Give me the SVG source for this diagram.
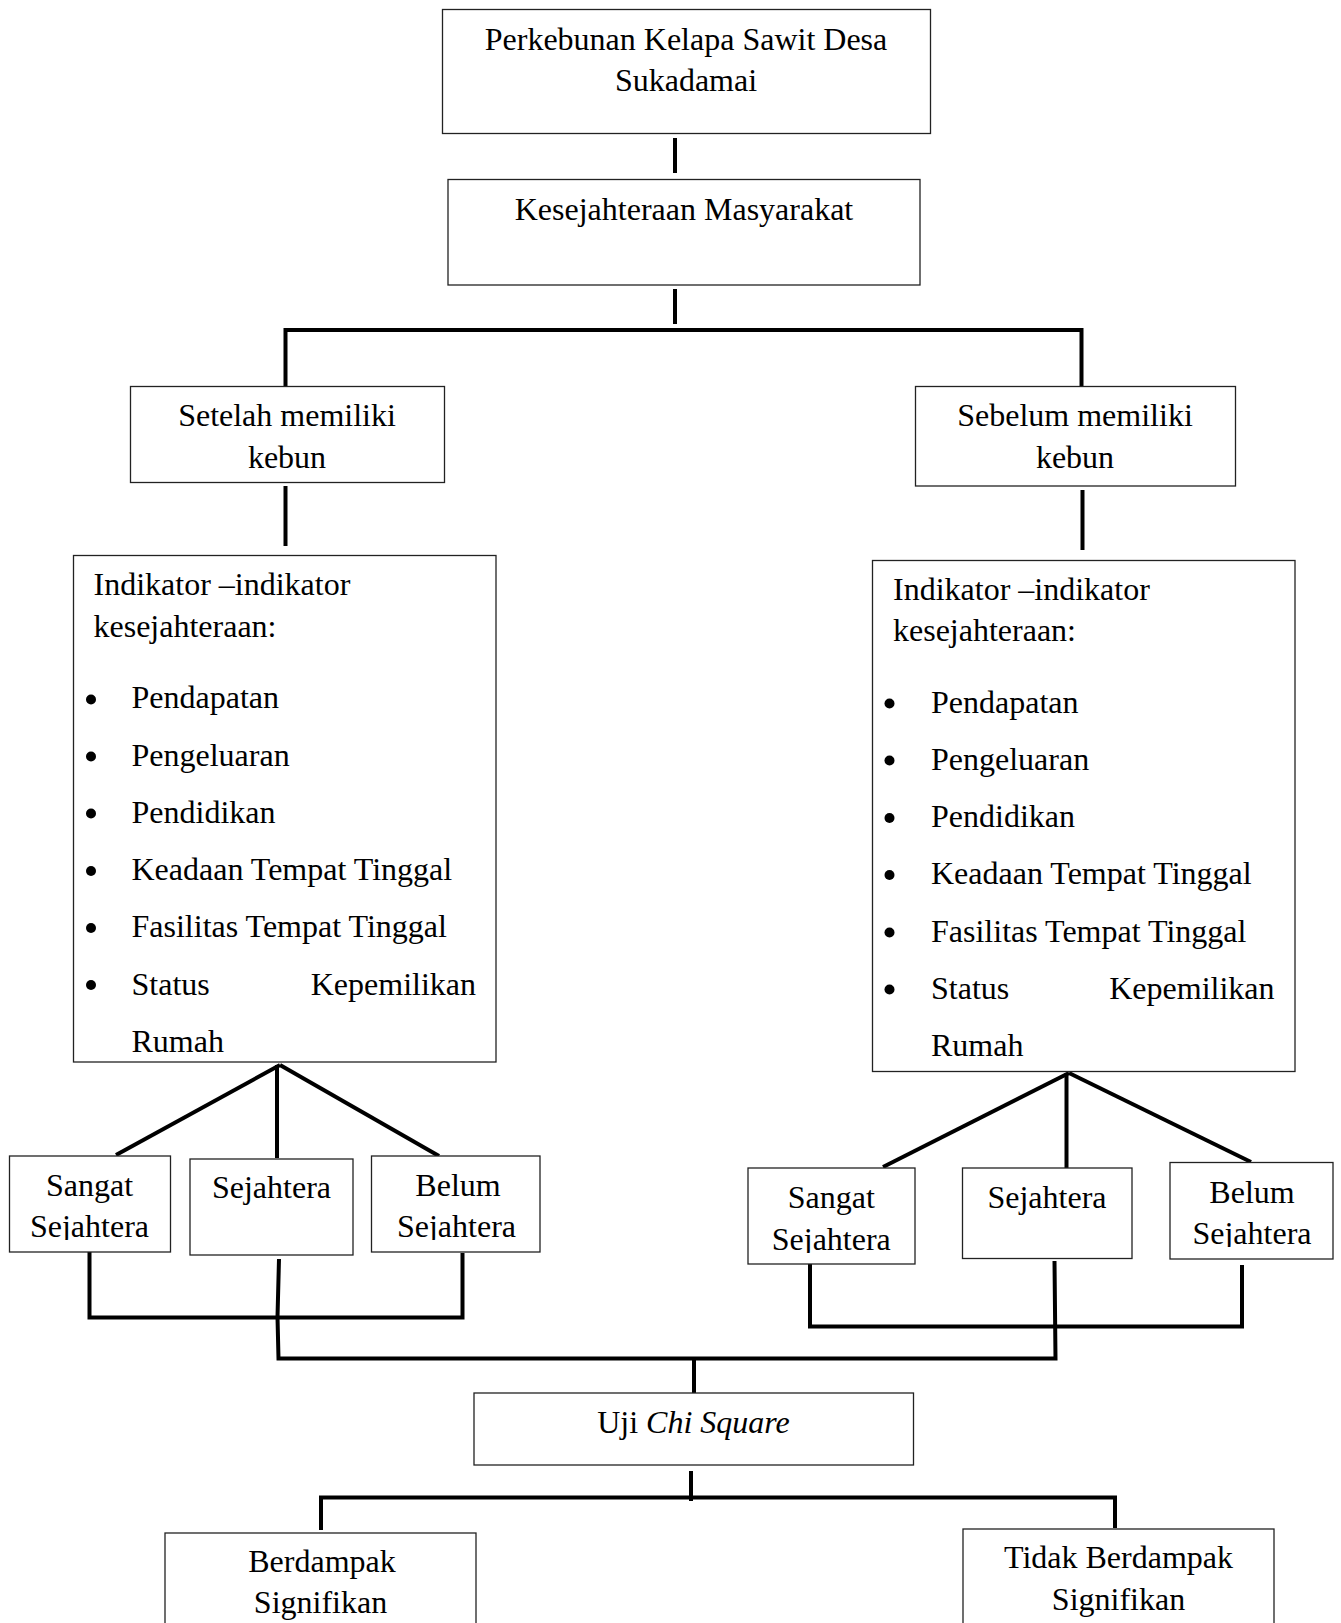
<svg xmlns="http://www.w3.org/2000/svg" width="1341" height="1623" viewBox="0 0 1341 1623">
<style>
.box{fill:#fff;stroke:#222;stroke-width:1.3}
.t{font-family:"Liberation Serif","Times New Roman",serif;font-size:32px;fill:#000}
.c{text-anchor:middle}
.e{text-anchor:end}
.ln{fill:none;stroke:#000;stroke-width:4}
</style>
<defs>
<clipPath id="clipL1"><rect x="0" y="1150" width="180" height="90"/></clipPath>
<clipPath id="clipL3"><rect x="365" y="1150" width="180" height="90"/></clipPath>
<clipPath id="clipR1"><rect x="740" y="1160" width="180" height="93"/></clipPath>
<clipPath id="clipR3"><rect x="1165" y="1155" width="175" height="92"/></clipPath>
</defs>
<rect width="1341" height="1623" fill="#fff"/>
<g id="connectors">
<line class="ln" x1="675" y1="138" x2="675" y2="173"/>
<line class="ln" x1="675" y1="289" x2="675" y2="324"/>
<polyline class="ln" points="285.5,386 285.5,330 1081.5,330 1081.5,386"/>
<line class="ln" x1="285.5" y1="486" x2="285.5" y2="546"/>
<line class="ln" x1="1082.5" y1="490" x2="1082.5" y2="550"/>
<line class="ln" x1="280" y1="1065" x2="116" y2="1155"/>
<line class="ln" x1="277" y1="1065" x2="277" y2="1158"/>
<line class="ln" x1="280" y1="1065" x2="439" y2="1156"/>
<line class="ln" x1="1069" y1="1073" x2="883" y2="1167"/>
<line class="ln" x1="1066.5" y1="1073" x2="1066.5" y2="1168"/>
<line class="ln" x1="1069" y1="1073" x2="1251" y2="1162"/>
<polyline class="ln" points="89.5,1252 89.5,1317.5 462.5,1317.5 462.5,1253"/>
<polyline class="ln" points="810,1264 810,1326.5 1242,1326.5 1242,1265"/>
<polyline class="ln" points="279,1259 277.5,1317 278.5,1358.5 1055.5,1358.5 1054.5,1261"/>
<line class="ln" x1="694" y1="1358" x2="694" y2="1393"/>
<line class="ln" x1="691" y1="1471" x2="691" y2="1501"/>
<polyline class="ln" points="321,1530 321,1497.5 1115,1497.5 1115,1528"/>
</g>
<g id="n-perkebunan">
<rect class="box" x="442.5" y="9.5" width="488" height="124"/>
<text class="t c" x="686" y="49.5">Perkebunan Kelapa Sawit Desa</text>
<text class="t c" x="686" y="90.5">Sukadamai</text>
</g>
<g id="n-kesejahteraan">
<rect class="box" x="448" y="179.5" width="472" height="105.5"/>
<text class="t c" x="684" y="220">Kesejahteraan Masyarakat</text>
</g>
<g id="n-setelah">
<rect class="box" x="130.5" y="386.5" width="314" height="96"/>
<text class="t c" x="287" y="426">Setelah memiliki</text>
<text class="t c" x="287" y="468">kebun</text>
</g>
<g id="n-sebelum">
<rect class="box" x="915.5" y="386.5" width="320" height="99.5"/>
<text class="t c" x="1075" y="426">Sebelum memiliki</text>
<text class="t c" x="1075" y="467.5">kebun</text>
</g>
<g id="n-indikator-kiri">
<rect class="box" x="73.5" y="555.5" width="422.5" height="506.5"/>
<text class="t" x="93.5" y="595">Indikator –indikator</text>
<text class="t" x="93.5" y="636.5">kesejahteraan:</text>
<circle cx="91" cy="699.5" r="5"/>
<text class="t" x="131.5" y="708.3">Pendapatan</text>
<circle cx="91" cy="756.5" r="5"/>
<text class="t" x="131.5" y="765.5">Pengeluaran</text>
<circle cx="91" cy="813.5" r="5"/>
<text class="t" x="131.5" y="822.7">Pendidikan</text>
<circle cx="91" cy="871" r="5"/>
<text class="t" x="131.5" y="880">Keadaan Tempat Tinggal</text>
<circle cx="91" cy="928" r="5"/>
<text class="t" x="131.5" y="937.2">Fasilitas Tempat Tinggal</text>
<circle cx="91" cy="985" r="5"/>
<text class="t" x="131.5" y="994.5">Status</text>
<text class="t e" x="476" y="994.5">Kepemilikan</text>
<text class="t" x="131.5" y="1051.5">Rumah</text>
</g>
<g id="n-indikator-kanan">
<rect class="box" x="872.5" y="560.5" width="422.5" height="511"/>
<text class="t" x="893" y="599.5">Indikator –indikator</text>
<text class="t" x="893" y="641">kesejahteraan:</text>
<circle cx="889.5" cy="703.5" r="5"/>
<text class="t" x="931" y="712.5">Pendapatan</text>
<circle cx="889.5" cy="760.5" r="5"/>
<text class="t" x="931" y="769.8">Pengeluaran</text>
<circle cx="889.5" cy="818" r="5"/>
<text class="t" x="931" y="827">Pendidikan</text>
<circle cx="889.5" cy="875" r="5"/>
<text class="t" x="931" y="884.3">Keadaan Tempat Tinggal</text>
<circle cx="889.5" cy="932.5" r="5"/>
<text class="t" x="931" y="941.6">Fasilitas Tempat Tinggal</text>
<circle cx="889.5" cy="989.5" r="5"/>
<text class="t" x="931" y="998.8">Status</text>
<text class="t e" x="1274.5" y="998.8">Kepemilikan</text>
<text class="t" x="931" y="1055.5">Rumah</text>
</g>
<g id="n-sangat-kiri">
<rect class="box" x="9.5" y="1156" width="161" height="96"/>
<g clip-path="url(#clipL1)">
<text class="t c" x="89.5" y="1196">Sangat</text>
<text class="t c" x="89.5" y="1236.7">Sejahtera</text>
</g>
</g>
<g id="n-sejahtera-kiri">
<rect class="box" x="190" y="1159" width="163" height="96"/>
<text class="t c" x="271.5" y="1198.3">Sejahtera</text>
</g>
<g id="n-belum-kiri">
<rect class="box" x="371.5" y="1156" width="168.5" height="96"/>
<g clip-path="url(#clipL3)">
<text class="t c" x="458" y="1196">Belum</text>
<text class="t c" x="456.5" y="1236.7">Sejahtera</text>
</g>
</g>
<g id="n-sangat-kanan">
<rect class="box" x="748" y="1168" width="167" height="96"/>
<g clip-path="url(#clipR1)">
<text class="t c" x="831.3" y="1208.3">Sangat</text>
<text class="t c" x="831.3" y="1250">Sejahtera</text>
</g>
</g>
<g id="n-sejahtera-kanan">
<rect class="box" x="962.5" y="1168" width="169.5" height="90.5"/>
<text class="t c" x="1047" y="1208.3">Sejahtera</text>
</g>
<g id="n-belum-kanan">
<rect class="box" x="1170" y="1162.5" width="163" height="96.5"/>
<g clip-path="url(#clipR3)">
<text class="t c" x="1252" y="1202.7">Belum</text>
<text class="t c" x="1252" y="1244">Sejahtera</text>
</g>
</g>
<g id="n-uji">
<rect class="box" x="474" y="1393" width="439.5" height="72"/>
<text class="t c" x="693.5" y="1433">Uji <tspan font-style="italic">Chi Square</tspan></text>
</g>
<g id="n-berdampak">
<rect class="box" x="165" y="1533" width="311" height="110"/>
<text class="t c" x="322" y="1572">Berdampak</text>
<text class="t c" x="320.5" y="1613">Signifikan</text>
</g>
<g id="n-tidak">
<rect class="box" x="963" y="1529" width="311" height="114"/>
<text class="t c" x="1118.5" y="1568">Tidak Berdampak</text>
<text class="t c" x="1118.5" y="1610">Signifikan</text>
</g>
</svg>
